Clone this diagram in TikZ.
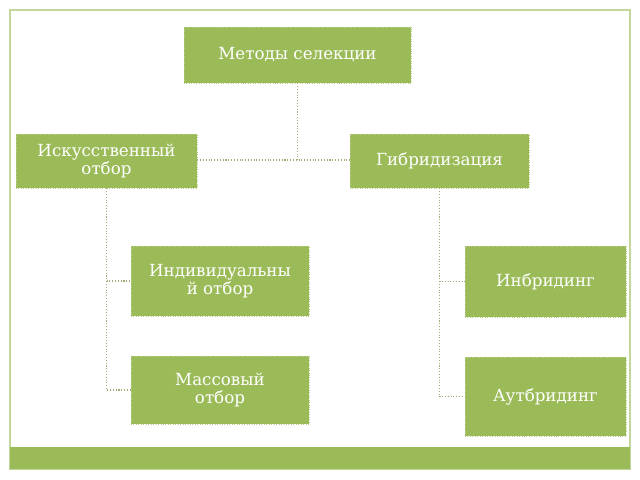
\documentclass[tikz,border=0pt]{standalone}
\usepackage{fontspec}
\setmainfont{DejaVu Serif}
\usetikzlibrary{positioning}
\definecolor{olive}{HTML}{9BBB59}
\definecolor{linkc}{HTML}{A8A878}
\tikzset{
  box/.style={draw=olive!70!white, densely dotted, fill=olive, text=white, align=center,
    font=\fontsize{9.5}{10.5}\selectfont},
  link/.style={draw=linkc, densely dotted, line width=0.6pt}
}
\begin{document}
\begin{tikzpicture}[x=0.02cm, y=-0.02cm]
    \useasboundingbox (0,0) rectangle (640,480);
    % frame and bottom bar
    \draw[olive!60!white, line width=0.8pt] (10,10) rectangle (630,469);
    \fill[olive] (10,447) rectangle (630,469);

    % boxes
    \node[box, minimum width=227*0.02cm, minimum height=56*0.02cm] (methods) at (297.5,55) {Методы селекции};
    \node[box, minimum width=181*0.02cm, minimum height=54*0.02cm] (art) at (106.5,161) {Искусственный\\отбор};
    \node[box, minimum width=179*0.02cm, minimum height=54*0.02cm] (hyb) at (439.5,161) {Гибридизация};
    \node[box, minimum width=178*0.02cm, minimum height=70*0.02cm] (indiv) at (220,281) {Индивидуальны\\й отбор};
    \node[box, minimum width=178*0.02cm, minimum height=68*0.02cm] (mass) at (220,390) {Массовый\\отбор};
    \node[box, minimum width=161*0.02cm, minimum height=71*0.02cm] (inbr) at (545.5,281.5) {Инбридинг};
    \node[box, minimum width=161*0.02cm, minimum height=79*0.02cm] (outbr) at (545.5,396.5) {Аутбридинг};

    % connectors
    \coordinate (hub) at (297.5,160);
    \draw[link] (methods.south) -- (hub);
    \draw[link] (art.east |- hub) -- (hyb.west |- hub);
    \draw[link] (art.south) |- (indiv.west);
    \draw[link] (art.south) |- (mass.west);
    \draw[link] (hyb.south) |- (inbr.west);
    \draw[link] (hyb.south) |- (outbr.west);
\end{tikzpicture}
\end{document}
